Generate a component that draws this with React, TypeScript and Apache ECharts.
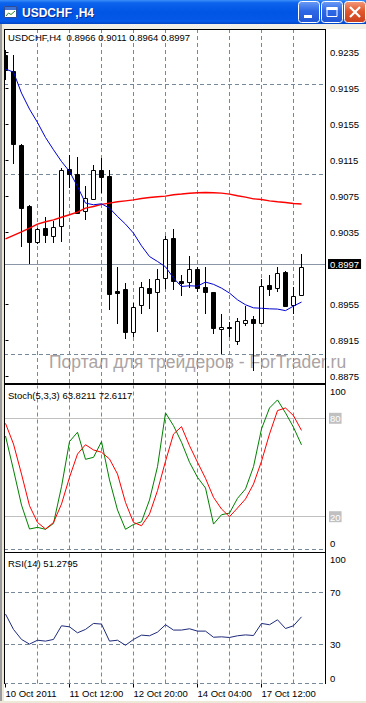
import React, { useEffect, useRef } from "react";
import * as echarts from "echarts";

// ---------- text ----------
const windowTitle = "USDCHF ,H4";
const symbolLabel = "USDCHF,H4";
const watermark = "Портал для трейдеров - ForTrader.ru";
const stochName = "Stoch(5,3,3)";
const rsiName = "RSI(14)";

// ---------- price data (H4 bars) ----------
const opens = [
  0.9232, 0.9215, 0.9132, 0.9064, 0.9025, 0.904, 0.9031, 0.9042, 0.9106, 0.91,
  0.9059, 0.9072, 0.9104, 0.9098, 0.897, 0.8972, 0.8925, 0.8954, 0.8973, 0.8969,
  0.8984, 0.9029, 0.8981, 0.898, 0.8995, 0.8975, 0.8969, 0.8928, 0.893, 0.8915,
  0.8935, 0.8939, 0.8934, 0.8977, 0.8973, 0.8991, 0.8954, 0.8966,
];
const closes = [
  0.9216, 0.9133, 0.9062, 0.9024, 0.9039, 0.9032, 0.9041, 0.9105, 0.91, 0.9057,
  0.9073, 0.9105, 0.9097, 0.8967, 0.8968, 0.8924, 0.8952, 0.8974, 0.8968, 0.8983,
  0.9028, 0.8981, 0.8979, 0.8994, 0.8973, 0.8969, 0.8929, 0.893, 0.8929, 0.8937,
  0.8938, 0.8935, 0.8976, 0.8972, 0.899, 0.8953, 0.8965, 0.8997,
];
const lows = [
  0.9205, 0.9111, 0.9019, 0.9, 0.9022, 0.9023, 0.9023, 0.9025, 0.9084, 0.9056,
  0.9049, 0.9071, 0.9079, 0.8949, 0.8933, 0.8917, 0.8919, 0.8944, 0.895, 0.8925,
  0.8972, 0.8971, 0.8964, 0.8973, 0.8969, 0.8944, 0.8922, 0.89, 0.8919, 0.891,
  0.8931, 0.8881, 0.8933, 0.8964, 0.8969, 0.8953, 0.8944, 0.8964,
];
const highs = [
  0.9238, 0.9232, 0.9133, 0.9066, 0.904, 0.9052, 0.9048, 0.9107, 0.9121, 0.9119,
  0.9087, 0.911, 0.9118, 0.9105, 0.8997, 0.8979, 0.8957, 0.898, 0.8983, 0.8995,
  0.9031, 0.9039, 0.8988, 0.9009, 0.8997, 0.8997, 0.8969, 0.8944, 0.8936, 0.894,
  0.8953, 0.8942, 0.8983, 0.8988, 0.8997, 0.8992, 0.8974, 0.9011,
];
// blue moving average
const maFast = [
  0.92166, 0.92132, 0.91899, 0.91721, 0.91572, 0.91406, 0.91269, 0.91139, 0.91028, 0.90861,
  0.90677, 0.90658, 0.90669, 0.90621, 0.90528, 0.90443, 0.90343, 0.90202, 0.90083, 0.90028,
  0.89969, 0.89843, 0.8975, 0.89758, 0.89754, 0.89799, 0.89774, 0.89732, 0.89677, 0.89602,
  0.89547, 0.89513, 0.89508, 0.89502, 0.89499, 0.89482, 0.89532, 0.89577,
];
// red moving average
const maSlow = [
  0.9028, 0.90319, 0.90358, 0.90399, 0.90443, 0.90469, 0.90491, 0.90519, 0.90547, 0.90577,
  0.90621, 0.90639, 0.90663, 0.90677, 0.90691, 0.90702, 0.90713, 0.90728, 0.90739, 0.90747,
  0.90754, 0.90769, 0.90777, 0.90786, 0.90791, 0.90794, 0.90791, 0.90788, 0.90777, 0.90758,
  0.90743, 0.90724, 0.90717, 0.90702, 0.90691, 0.90683, 0.90672, 0.90666,
];
// ---------- indicators ----------
const stochMain = [
  69.2, 48.5, 27.1, 12.5, 13.5, 12.3, 15.9, 38.3, 65.8, 71.5,
  55.0, 56.2, 65.8, 42.4, 24.1, 12.3, 15.3, 16.9, 30.2, 50.5,
  83.3, 75.5, 65.4, 53.2, 44.0, 37.5, 15.5, 21.2, 22.2, 31.2,
  36.9, 50.5, 73.5, 86.3, 91.2, 83.3, 74.5, 63.8211,
];
const stochSignal = [
  76.9, 64.3, 46.0, 26.7, 16.5, 12.5, 16.5, 27.7, 44.0, 58.2,
  63.9, 60.7, 59.3, 55.2, 46.0, 28.7, 16.5, 14.5, 21.6, 35.9,
  53.8, 70.4, 74.9, 63.3, 53.2, 43.4, 31.8, 24.7, 20.0, 25.3,
  30.8, 39.9, 53.8, 70.4, 84.7, 86.3, 81.6, 72.6117,
];
const rsiValues = [
  53.4, 41.6, 33.9, 30.3, 33.3, 32.6, 33.9, 44.4, 43.6, 39.0,
  41.6, 46.2, 45.7, 32.6, 33.3, 29.4, 33.9, 37.2, 36.7, 39.5,
  45.2, 41.1, 41.1, 42.1, 40.3, 40.3, 35.6, 35.9, 35.4, 36.7,
  37.4, 36.9, 46.2, 45.2, 49.0, 42.3, 44.4, 51.2795,
];

// ---------- axes / ticks ----------
const priceLabels = [0.9235, 0.9195, 0.9155, 0.9115, 0.9075, 0.9035, 0.8955, 0.8915, 0.8875];
const priceGrid = [0.9235, 0.9195, 0.9155, 0.9115, 0.9075, 0.9035, 0.8995, 0.8955, 0.8915, 0.8875];
const timeGridBars = [4, 8, 12, 16, 20, 24, 28, 32, 36];
const dateTickBars = [0, 8, 16, 24, 32];
const dateTickLabels = ["10 Oct 2011", "11 Oct 12:00", "12 Oct 20:00", "14 Oct 04:00", "17 Oct 12:00"];
const stochAxisLabels = [0, 20, 80, 100];
const stochLevels = [80, 20];
const rsiAxisLabels = [0, 30, 70, 100];
const rsiLevels = [70, 30];

const FONT = "Liberation Sans";
const FS = 9.5;
const X_MIN = -0.1875;
const X_MAX = 39.9375;
const P_MAX = 0.9260556;
const P_MIN = 0.8867778;
const GRID_COLOR = "#778899";
const DASH = [4, 3];

const last = closes.length - 1;
const fmt4 = (v: number) => v.toFixed(4);

function buildOption(): any {
  const idx = (arr: number[]) => arr.map((v, i) => [i, v]);
  const candleData = opens.map((o, i) => [i, o, closes[i], lows[i], highs[i]]);
  const vLines = timeGridBars.map((b) => ({ xAxis: b }));
  const dashed = { color: GRID_COLOR, width: 1, type: DASH };

  const hiddenX = (gridIndex: number) => ({
    type: "value",
    gridIndex,
    min: X_MIN,
    max: X_MAX,
    show: false,
  });

  const txt = (text: string, x: number, y: number, extra: any = {}) => ({
    type: "text",
    x,
    y,
    z: 50,
    style: {
      text,
      fill: "#000",
      font: `${FS}px "${FONT}"`,
      align: "left",
      textAlign: "left",
      verticalAlign: "middle",
      textVerticalAlign: "middle",
      ...extra,
    },
  });
  const hline = (x1: number, x2: number, y: number, z = 100) => ({
    type: "line",
    z,
    shape: { x1, y1: y, x2, y2: y },
    style: { stroke: "#000", lineWidth: 1 },
  });
  const vline = (x: number, y1: number, y2: number) => ({
    type: "line",
    z: 100,
    shape: { x1: x, y1, x2: x, y2 },
    style: { stroke: "#000", lineWidth: 1 },
  });
  const LG = (stops: [number, string][]) =>
    new echarts.graphic.LinearGradient(0, 0, 0, 1, stops.map(([offset, color]) => ({ offset, color })));

  const graphic: any[] = [
    // window frame
    { type: "rect", z: 90, shape: { x: 0, y: 24, width: 366, height: 5 }, style: { fill: "#F1EFE6" } },
    { type: "rect", z: 90, shape: { x: 0, y: 24, width: 2, height: 679 }, style: { fill: "#9C9B9F" } },
    { type: "rect", z: 90, shape: { x: 2, y: 24, width: 2, height: 679 }, style: { fill: "#ECE9D8" } },
    { type: "rect", z: 90, shape: { x: 0, y: 701, width: 366, height: 2 }, style: { fill: "#ECE9D8" } },
    // title bar
    {
      type: "rect",
      z: 91,
      shape: { x: 0, y: 0, width: 366, height: 24 },
      style: {
        fill: LG([
          [0, "#3A8FF8"],
          [0.12, "#0C63EC"],
          [0.5, "#0055E5"],
          [0.88, "#0559E9"],
          [1, "#0044C4"],
        ]),
      },
    },
    // icon
    { type: "rect", z: 92, shape: { x: 4.5, y: 6.5, width: 12, height: 11 }, style: { fill: "#FFFFFF", stroke: "#2C4C9A", lineWidth: 1 } },
    { type: "rect", z: 92, shape: { x: 5, y: 7, width: 11, height: 3 }, style: { fill: "#3E73D6" } },
    {
      type: "polyline",
      z: 93,
      shape: { points: [[6, 16], [8.5, 13], [11, 14.5], [15, 11]] },
      style: { stroke: "#2A8A2A", lineWidth: 1, fill: null },
    },
    // title text
    { type: "text", z: 92, x: 23, y: 13.5, style: { text: windowTitle, fill: "#0A2A8C", font: `bold 12px "${FONT}"`, verticalAlign: "middle", textVerticalAlign: "middle" } },
    { type: "text", z: 93, x: 22, y: 12.5, style: { text: windowTitle, fill: "#FFFFFF", font: `bold 12px "${FONT}"`, verticalAlign: "middle", textVerticalAlign: "middle" } },
    // minimize
    {
      type: "rect",
      z: 92,
      shape: { x: 298.5, y: 1.5, width: 21, height: 21, r: 3 },
      style: { fill: LG([[0, "#6C9BF5"], [0.45, "#2D68E6"], [1, "#1F55D6"]]), stroke: "#FFFFFF", lineWidth: 1 },
    },
    { type: "rect", z: 93, shape: { x: 304, y: 15, width: 8, height: 3 }, style: { fill: "#FFFFFF" } },
    // maximize
    {
      type: "rect",
      z: 92,
      shape: { x: 321.5, y: 1.5, width: 21, height: 21, r: 3 },
      style: { fill: LG([[0, "#6C9BF5"], [0.45, "#2D68E6"], [1, "#1F55D6"]]), stroke: "#FFFFFF", lineWidth: 1 },
    },
    { type: "rect", z: 93, shape: { x: 327, y: 7.5, width: 10, height: 9 }, style: { fill: null, stroke: "#FFFFFF", lineWidth: 1 } },
    { type: "rect", z: 93, shape: { x: 326.5, y: 7, width: 11, height: 3 }, style: { fill: "#FFFFFF" } },
    // close
    {
      type: "rect",
      z: 92,
      shape: { x: 344.5, y: 1.5, width: 21, height: 21, r: 3 },
      style: { fill: LG([[0, "#F19A7C"], [0.45, "#E2582E"], [1, "#C8401C"]]), stroke: "#FFFFFF", lineWidth: 1 },
    },
    { type: "line", z: 93, shape: { x1: 350, y1: 7, x2: 360, y2: 17 }, style: { stroke: "#FFFFFF", lineWidth: 2.2 } },
    { type: "line", z: 93, shape: { x1: 360, y1: 7, x2: 350, y2: 17 }, style: { stroke: "#FFFFFF", lineWidth: 2.2 } },
    // watermark (behind the series)
    {
      type: "text",
      z: -5,
      x: 49,
      y: 362,
      style: { text: watermark, fill: "#ABA3A3", font: `17.5px "${FONT}"`, verticalAlign: "middle", textVerticalAlign: "middle" },
    },
    // panel borders
    hline(4, 326, 29.5),
    vline(4.5, 29, 684),
    vline(325.5, 29, 684),
    hline(4, 326, 383.5),
    hline(4, 326, 384.5),
    hline(4, 326, 552.5),
    // panel captions
    txt(`${symbolLabel}  ${fmt4(opens[last])} ${fmt4(highs[last])} ${fmt4(lows[last])} ${fmt4(closes[last])}`, 8, 37),
    txt(`${stochName} ${stochMain[last].toFixed(4)} ${stochSignal[last].toFixed(4)}`, 8, 395),
    txt(`${rsiName} ${rsiValues[last].toFixed(4)}`, 8, 563),
  ];

  const candleSeries = {
    type: "custom",
    name: "candles",
    xAxisIndex: 0,
    yAxisIndex: 0,
    z: 3,
    data: candleData,
    encode: { x: 0, y: [1, 2, 3, 4] },
    renderItem: (_params: any, api: any) => {
      const i = api.value(0);
      const o = api.value(1);
      const c = api.value(2);
      const l = api.value(3);
      const h = api.value(4);
      const po = api.coord([i, o]);
      const pc = api.coord([i, c]);
      const pl = api.coord([i, l]);
      const ph = api.coord([i, h]);
      const cx = Math.floor(po[0]) + 0.5;
      const top = Math.round(Math.min(po[1], pc[1])) + 0.5;
      let bot = Math.round(Math.max(po[1], pc[1])) + 0.5;
      if (bot - top < 1) bot = top + 1;
      const bull = c >= o;
      return {
        type: "group",
        children: [
          {
            type: "line",
            shape: { x1: cx, y1: Math.round(ph[1]), x2: cx, y2: Math.round(pl[1]) },
            style: { stroke: "#000", lineWidth: 1 },
          },
          {
            type: "rect",
            shape: { x: cx - 2, y: top, width: 4, height: bot - top },
            style: { fill: bull ? "#FFFFFF" : "#000000", stroke: "#000", lineWidth: 1 },
          },
        ],
      };
    },
  };

  const lineS = (data: number[], color: string, width: number, gi: number, z: number, markLine?: any) => ({
    type: "line",
    xAxisIndex: gi,
    yAxisIndex: gi,
    data: idx(data),
    symbol: "none",
    showSymbol: false,
    z,
    lineStyle: { color, width },
    emphasis: { disabled: true },
    silent: true,
    ...(markLine ? { markLine } : {}),
  });

  const mainMarks = {
    silent: true,
    z: 1,
    symbol: ["none", "none"],
    label: { show: false },
    lineStyle: dashed,
    data: [
      ...vLines,
      ...priceGrid.map((p) => ({ yAxis: p })),
      {
        yAxis: closes[last],
        lineStyle: { color: "#8A96A6", width: 1, type: "solid" },
        label: {
          show: true,
          position: "end",
          distance: 3,
          formatter: fmt4(closes[last]),
          backgroundColor: "#000",
          color: "#FFF",
          padding: [0, 2, 0, 2],
          lineHeight: 10,
          fontSize: FS,
          fontFamily: FONT,
        },
      },
    ],
  };

  const stochMarks = {
    silent: true,
    z: 1,
    symbol: ["none", "none"],
    label: { show: false },
    lineStyle: dashed,
    data: [
      ...vLines,
      { yAxis: 0 },
      ...stochLevels.map((v) => ({ yAxis: v, lineStyle: { color: "#C0C0C0", width: 1, type: "solid" } })),
    ],
  };

  const rsiMarks = {
    silent: true,
    z: 1,
    symbol: ["none", "none"],
    label: { show: false },
    lineStyle: dashed,
    data: [...vLines, { yAxis: 0 }, ...rsiLevels.map((v) => ({ yAxis: v }))],
  };

  return {
    animation: false,
    backgroundColor: "#FFFFFF",
    textStyle: { fontFamily: FONT, fontSize: FS, color: "#000" },
    grid: [
      { left: 4, top: 29.5, width: 321, height: 353.5, outerBoundsMode: "none", containLabel: false },
      { left: 4, top: 385.5, width: 321, height: 164, outerBoundsMode: "none", containLabel: false },
      { left: 4, top: 553.5, width: 321, height: 130, outerBoundsMode: "none", containLabel: false },
    ],
    xAxis: [
      hiddenX(0),
      hiddenX(1),
      {
        type: "value",
        gridIndex: 2,
        min: X_MIN,
        max: X_MAX,
        axisLine: { show: false },
        splitLine: { show: false },
        axisTick: { show: true, customValues: dateTickBars, length: 4, lineStyle: { color: "#000", width: 1 } },
        axisLabel: {
          show: true,
          customValues: dateTickBars,
          formatter: (v: number) => dateTickLabels[dateTickBars.indexOf(Math.round(v))] ?? "",
          align: "left",
          margin: 5,
          color: "#000",
          fontSize: FS,
          fontFamily: FONT,
        },
      },
    ],
    yAxis: [
      {
        type: "value",
        gridIndex: 0,
        position: "right",
        min: P_MIN,
        max: P_MAX,
        axisLine: { show: false },
        splitLine: { show: false },
        axisTick: { show: true, customValues: priceLabels, length: 3, lineStyle: { color: "#000", width: 1 } },
        axisLabel: {
          customValues: priceLabels,
          formatter: (v: number) => fmt4(v),
          margin: 5,
          color: "#000",
          fontSize: FS,
          fontFamily: FONT,
        },
      },
      {
        type: "value",
        gridIndex: 1,
        position: "right",
        min: 0,
        max: 100,
        axisLine: { show: false },
        splitLine: { show: false },
        axisTick: { show: false },
        axisLabel: {
          customValues: stochAxisLabels,
          formatter: (v: number) => (v === 100 ? "{t|100}" : v === 0 ? "{b|0}" : `{lv|${v}}`),
          margin: 4,
          color: "#000",
          fontSize: FS,
          fontFamily: FONT,
          rich: {
            t: { padding: [12, 0, 0, 1], fontSize: FS, fontFamily: FONT },
            b: { padding: [0, 0, 12, 1], fontSize: FS, fontFamily: FONT },
            lv: { backgroundColor: "#C0C0C0", color: "#FFFFFF", padding: [1, 1, 0, 1], fontSize: FS, fontFamily: FONT },
          },
        },
      },
      {
        type: "value",
        gridIndex: 2,
        position: "right",
        min: 0,
        max: 100,
        axisLine: { show: false },
        splitLine: { show: false },
        axisTick: { show: true, customValues: rsiLevels, length: 3, lineStyle: { color: "#000", width: 1 } },
        axisLabel: {
          customValues: rsiAxisLabels,
          formatter: (v: number) => (v === 100 ? "{t|100}" : v === 0 ? "{b|0}" : String(v)),
          margin: 5,
          color: "#000",
          fontSize: FS,
          fontFamily: FONT,
          rich: {
            t: { padding: [11, 0, 0, 0], fontSize: FS, fontFamily: FONT },
            b: { padding: [0, 0, 11, 0], fontSize: FS, fontFamily: FONT },
          },
        },
      },
    ],
    graphic,
    series: [
      lineS(maSlow, "#FF0000", 1.4, 0, 4, mainMarks),
      candleSeries,
      lineS(maFast, "#0000D0", 1, 0, 5),
      lineS(stochMain, "#008000", 1, 1, 4, stochMarks),
      lineS(stochSignal, "#FF0000", 1, 1, 5),
      lineS(rsiValues, "#1E2A7A", 1, 2, 4, rsiMarks),
    ],
  };
}

export default function App() {
  const ref = useRef<HTMLDivElement>(null);
  useEffect(() => {
    document.body.style.margin = "0";
    if (!ref.current) return;
    const chart = echarts.init(ref.current, null, { renderer: "svg", width: 366, height: 703 });
    chart.setOption(buildOption());
    return () => chart.dispose();
  }, []);
  return <div ref={ref} style={{ width: 366, height: 703, background: "#FFFFFF" }} />;
}
